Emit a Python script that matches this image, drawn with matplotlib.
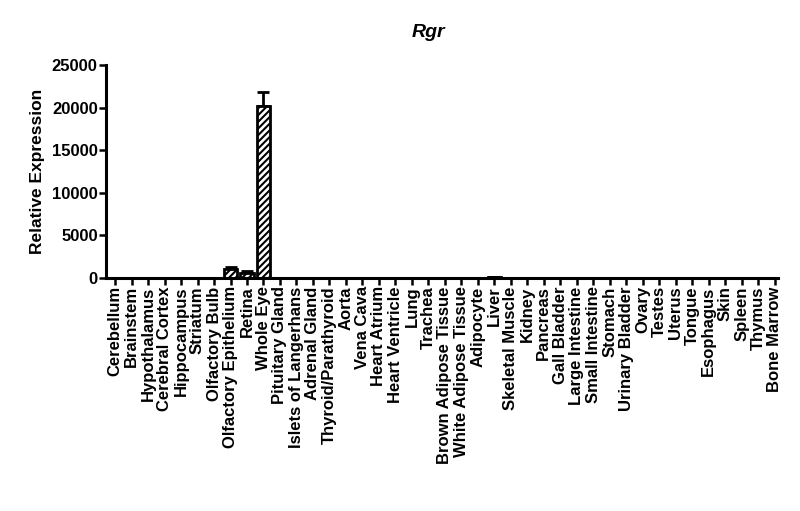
import matplotlib
matplotlib.use('Agg')
import matplotlib.pyplot as plt
import numpy as np

plt.rcParams['font.family'] = ['Liberation Sans', 'DejaVu Sans']
plt.rcParams['font.weight'] = 'bold'
plt.rcParams['hatch.linewidth'] = 1.5

# tejidos y valores
tejidos = ['Cerebellum', 'Brainstem', 'Hypothalamus', 'Cerebral Cortex', 'Hippocampus',
           'Striatum', 'Olfactory Bulb', 'Olfactory Epithelium', 'Retina', 'Whole Eye',
           'Pituitary Gland', 'Islets of Langerhans', 'Adrenal Gland', 'Thyroid/Parathyroid',
           'Aorta', 'Vena Cava', 'Heart Atrium', 'Heart Ventricle', 'Lung', 'Trachea',
           'Brown Adipose Tissue', 'White Adipose Tissue', 'Adipocyte', 'Liver',
           'Skeletal Muscle', 'Kidney', 'Pancreas', 'Gall Bladder', 'Large Intestine',
           'Small Intestine', 'Stomach', 'Urinary Bladder', 'Ovary', 'Testes', 'Uterus',
           'Tongue', 'Esophagus', 'Skin', 'Spleen', 'Thymus', 'Bone Marrow']
expresion = [0, 0, 0, 0, 0, 0, 0, 1050, 620, 20200,
             0, 0, 0, 0, 0, 0, 0, 0, 0, 0,
             0, 0, 0, 90, 0, 0, 0, 0, 0, 0,
             0, 0, 0, 0, 0, 0, 0, 0, 0, 0, 0]
error = [0, 0, 0, 0, 0, 0, 0, 200, 150, 1600,
         0, 0, 0, 0, 0, 0, 0, 0, 0, 0,
         0, 0, 0, 20, 0, 0, 0, 0, 0, 0,
         0, 0, 0, 0, 0, 0, 0, 0, 0, 0, 0]
yticks = [0, 5000, 10000, 15000, 20000, 25000]

fig = plt.figure(figsize=(8, 5.11), dpi=100)
ax = fig.add_axes([0.1325, 0.456, 0.84, 0.417])

x = np.arange(len(tejidos))
ax.bar(x, expresion, width=0.8, color='white', edgecolor='black', linewidth=2,
       hatch='/////', zorder=2)
ax.errorbar(x, expresion, yerr=[np.zeros(len(error)), error], fmt='none',
            ecolor='black', elinewidth=2, capsize=4, capthick=2, zorder=1)

ax.set_xlim(-0.55, 40.2)
ax.set_ylim(0, 25000)
ax.set_yticks(yticks)
ax.set_yticklabels([str(v) for v in yticks], fontsize=12, fontweight='bold')
ax.set_xticks(x)
ax.set_xticklabels(tejidos, rotation=90, fontsize=12, fontweight='bold')
ax.tick_params(axis='both', width=1.8, length=5, color='black', pad=1)

for lado in ['top', 'right']:
    ax.spines[lado].set_visible(False)
for lado in ['left', 'bottom']:
    ax.spines[lado].set_linewidth(2.2)

ax.set_ylabel('Relative Expression', fontsize=12.5, fontweight='bold', labelpad=5)
fig.text(0.535, 0.937, 'Rgr', fontsize=14, fontweight='bold', style='italic',
         ha='center', va='center')

fig.savefig('out.png', dpi=100)
